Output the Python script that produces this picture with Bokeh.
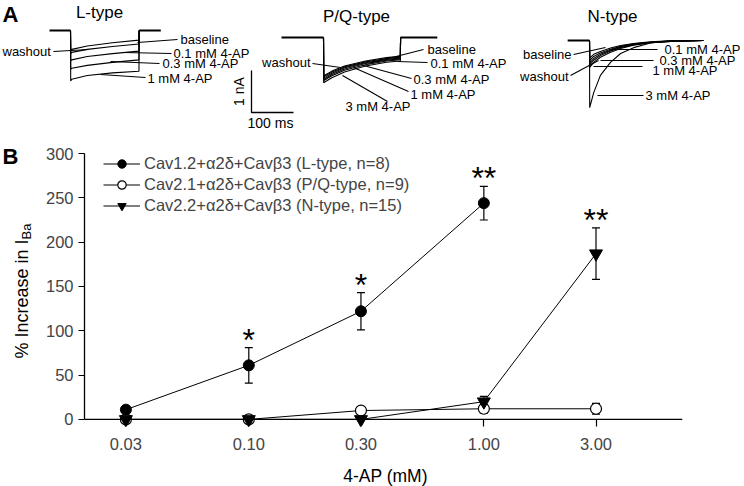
import math
from bokeh.plotting import figure
from bokeh.layouts import column, row
from bokeh.models import (Range1d, FixedTicker, NumeralTickFormatter, Whisker, TeeHead,
                          ColumnDataSource, Legend, LegendItem, Span)
from bokeh.core.properties import value
from bokeh.embed import file_html
from bokeh.resources import INLINE

FONT = "Liberation Sans"

# ---------------- Panel B data ----------------
conc = [0.03, 0.10, 0.30, 1.00, 3.00]
tick_labels = ["0.03", "0.10", "0.30", "1.00", "3.00"]
L_conc = [0.03, 0.10, 0.30, 1.00]
L_mean = [11, 61, 122, 244]
L_err = [2, 20, 21, 19]
PQ_mean = [0, 0, 10, 12, 12]
PQ_err = [0, 0, 4, 5, 6]
N_mean = [0, 0, 0, 20, 187]
N_err = [0, 0, 0, 6, 29]
y_ticks = [0, 50, 100, 150, 200, 250, 300]
x_title = "4-AP (mM)"
legend_labels = ["Cav1.2+\u03b12\u03b4+Cav\u03b23 (L-type, n=8)",
                 "Cav2.1+\u03b12\u03b4+Cav\u03b23 (P/Q-type, n=9)",
                 "Cav2.2+\u03b12\u03b4+Cav\u03b23 (N-type, n=15)"]
star_x = [0.10, 0.30, 1.00, 3.00]
star_text = ["*", "*", "**", "**"]

# ---------------- Panel A data (time in ms from pulse onset, current in nA) ----------------
L_t = [0, 0.5, 3, 40, 100, 163, 163.5]
L_traces = {
    "baseline": [0, -0.47, -0.45, -0.37, -0.29, -0.23, 0],
    "washout":  [0, -0.55, -0.52, -0.45, -0.38, -0.32, 0],
    "0.1 mM":   [0, -0.72, -0.70, -0.62, -0.55, -0.49, 0],
    "0.3 mM":   [0, -0.92, -0.90, -0.83, -0.76, -0.70, 0],
    "1 mM":     [0, -1.20, -1.16, -1.07, -1.01, -0.97, 0],
}
L_pre_t, L_post_t = [-50, 0], [163.5, 215]

PQ_t = [0, 0.5, 3, 20, 50, 100, 150, 183, 183.5]
PQ_traces = {
    "baseline": [0, -0.92, -0.90, -0.80, -0.68, -0.56, -0.48, -0.45, 0],
    "washout":  [0, -0.94, -0.92, -0.82, -0.70, -0.58, -0.50, -0.47, 0],
    "0.1 mM":   [0, -0.97, -0.95, -0.85, -0.72, -0.60, -0.52, -0.49, 0],
    "0.3 mM":   [0, -1.00, -0.98, -0.88, -0.75, -0.62, -0.54, -0.51, 0],
    "1 mM":     [0, -1.03, -1.01, -0.91, -0.78, -0.65, -0.56, -0.53, 0],
    "3 mM":     [0, -1.08, -1.06, -0.96, -0.82, -0.68, -0.59, -0.56, 0],
}
PQ_pre_t, PQ_post_t = [-100, 0], [183.5, 271]

N_t = [0, 0.5, 10, 26, 50, 74, 105, 145, 193, 271]
N_traces = {
    "baseline": [0, -0.42, -0.33, -0.26, -0.18, -0.12, -0.07, -0.03, -0.01, 0],
    "washout":  [0, -0.48, -0.38, -0.30, -0.21, -0.14, -0.08, -0.04, -0.01, 0],
    "0.1 mM":   [0, -0.53, -0.43, -0.33, -0.23, -0.15, -0.09, -0.04, -0.02, 0],
    "0.3 mM":   [0, -0.58, -0.47, -0.36, -0.25, -0.17, -0.10, -0.05, -0.02, 0],
    "1 mM":     [0, -0.64, -0.52, -0.40, -0.28, -0.19, -0.11, -0.05, -0.02, 0],
    "3 mM":     [0, -1.60, -1.24, -0.83, -0.52, -0.31, -0.17, -0.06, -0.01, 0],
}
N_pre_t = [-52, 0]

# ---------------- Panel A figure ----------------
PX = 0.42   # px per ms
PY = 42.0   # px per nA
W, HA = 744, 138

def ax(px):
    return px / PX

def ay(py):
    return -py / PY

pA = figure(width=W, height=HA, x_range=Range1d(0, W / PX), y_range=Range1d(-HA / PY, 0),
            output_backend="svg", toolbar_location=None, min_border=0,
            x_axis_location=None, y_axis_location=None, frame_align=False)
pA.outline_line_color = None
pA.grid.visible = False

def draw_traces(t, traces, onset_px, hold_py, pre=None, post=None):
    ox, oy = ax(onset_px), ay(hold_py)
    for name, cur in traces.items():
        pA.line([ox + v for v in t], [oy + c for c in cur], line_color="black", line_width=1.1)
    for seg in (pre, post):
        if seg:
            pA.line([ox + v for v in seg], [oy, oy], line_color="black", line_width=2)

draw_traces(L_t, L_traces, 70, 30, L_pre_t, L_post_t)
draw_traces(PQ_t, PQ_traces, 323, 37, PQ_pre_t, PQ_post_t)
draw_traces(N_t, N_traces, 589, 40, N_pre_t, None)

# scale bar: 1 nA, 100 ms
bx, by = ax(251), ay(112)
pA.line([bx, bx, bx + 100], [by + 1, by, by], line_color="black", line_width=1.3)

def txt(p_, items, size, align="left", angle=0.0, style="normal", fx=ax, fy=ay):
    p_.text(x=[fx(i[1]) for i in items], y=[fy(i[2]) for i in items], text=[i[0] for i in items],
            text_font=value(FONT), text_font_size=size, text_align=align,
            text_baseline="middle", angle=angle, text_font_style=style, text_color="black")

txt(pA, [("A", 2, 14)], "22px", style="bold")
txt(pA, [("L-type", 99, 12), ("P/Q-type", 356, 16), ("N-type", 612, 16)], "17px", align="center")
txt(pA, [("baseline", 180, 39), ("0.1 mM 4-AP", 173, 53), ("0.3 mM 4-AP", 162, 63),
         ("1 mM 4-AP", 147, 78), ("washout", 2, 51),
         ("baseline", 427, 49), ("0.1 mM 4-AP", 430, 63), ("0.3 mM 4-AP", 413, 79),
         ("1 mM 4-AP", 410, 94), ("3 mM 4-AP", 345, 106),
         ("0.1 mM 4-AP", 664, 49), ("0.3 mM 4-AP", 659, 60), ("1 mM 4-AP", 652, 70),
         ("3 mM 4-AP", 645, 95)], "13px")
txt(pA, [("washout", 310, 62), ("baseline", 571, 54), ("washout", 568, 76)], "13px", align="right")
txt(pA, [("100 ms", 270, 122)], "14px", align="center")
txt(pA, [("1 nA", 238, 91)], "14px", align="center", angle=math.pi / 2)

leaders = [((53, 51), (88, 49)), ((137, 42), (177, 39)), ((123, 52), (171, 53)),
           ((110, 61), (159, 63)), ((100, 74), (145, 77)),
           ((368, 63), (423, 49)), ((397, 61), (427, 62)), ((363, 65), (411, 78)),
           ((353, 67), (408, 91)), ((342, 75), (387, 101)), ((312, 63), (340, 67)),
           ((573, 54), (605, 47)), ((570, 75), (598, 60)), ((610, 49), (657, 49)),
           ((600, 60), (653, 60)), ((593, 66), (642, 66)), ((597, 95), (643, 95))]
pA.segment(x0=[ax(a[0]) for a, b in leaders], y0=[ay(a[1]) for a, b in leaders],
           x1=[ax(b[0]) for a, b in leaders], y1=[ay(b[1]) for a, b in leaders],
           line_color="black", line_width=1.1)

ident = lambda v: v

def strip(w, h, x0, y0):
    s = figure(width=w, height=h, x_range=Range1d(x0, x0 + w), y_range=Range1d(y0 + h, y0),
               output_backend="svg", toolbar_location=None, min_border=0,
               x_axis_location=None, y_axis_location=None, frame_align=False)
    s.outline_line_color = None
    s.grid.visible = False
    return s

# ---------------- Side strip with panel letter B and y-axis title ----------------
WL, HB = 40, 348
pL = strip(WL, HB, 0, 138)
txt(pL, [("B", 2, 156)], "22px", style="bold", fx=ident, fy=ident)
txt(pL, [("% Increase in I", 21, 358)], "18px", angle=math.pi / 2, fx=ident, fy=ident)
txt(pL, [("Ba", 26, 239)], "13px", angle=math.pi / 2, fx=ident, fy=ident)

# ---------------- Panel B figure ----------------
HP, HX = 322, 26
pB = figure(width=W - WL, height=HP, x_axis_type="log", x_range=Range1d(0.02, 7),
            y_range=Range1d(-8, 300), output_backend="svg", toolbar_location=None,
            min_border_left=44, min_border_right=62, min_border_top=15, min_border_bottom=34,
            frame_align=False)
pB.outline_line_color = None
pB.grid.visible = False

xa = pB.xaxis[0]
xa.ticker = FixedTicker(ticks=conc)
xa.formatter = NumeralTickFormatter(format="0.00")
xa.minor_tick_line_color = None
xa.axis_line_color = None
xa.major_tick_in = 7
xa.major_tick_out = 0
xa.major_tick_line_width = 1.2
xa.major_label_standoff = 11
xa.major_label_text_font = FONT
xa.major_label_text_font_size = "16.5px"

# x-axis line drawn at y = 0
pB.add_layout(Span(location=0, dimension="width", line_color="black", line_width=1.3))

ya = pB.yaxis[0]
ya.bounds = (0, 300)
ya.ticker = FixedTicker(ticks=y_ticks)
ya.minor_tick_line_color = None
ya.major_tick_in = 0
ya.major_tick_out = 6
ya.major_tick_line_width = 1.2
ya.major_label_standoff = 5
ya.major_label_text_font = FONT
ya.major_label_text_font_size = "16.5px"
ya.axis_line_width = 1.3

def add_err(xs, m, e):
    src = ColumnDataSource(dict(x=xs, lo=[a - b for a, b in zip(m, e)], hi=[a + b for a, b in zip(m, e)]))
    w = Whisker(source=src, base="x", lower="lo", upper="hi", dimension="height",
                line_color="black", line_width=1.2,
                upper_head=TeeHead(size=8, line_color="black", line_width=1.2),
                lower_head=TeeHead(size=8, line_color="black", line_width=1.2))
    pB.add_layout(w)

add_err(L_conc, L_mean, L_err)
add_err(conc, PQ_mean, PQ_err)
add_err(conc, N_mean, N_err)

lL = pB.line(L_conc, L_mean, line_color="black", line_width=1)
lP = pB.line(conc, PQ_mean, line_color="black", line_width=1)
lN = pB.line(conc, N_mean, line_color="black", line_width=1)
sP = pB.scatter(conc, PQ_mean, marker="circle", size=11, fill_color="white", line_color="black", line_width=1.2)
sN = pB.scatter(conc, N_mean, marker="inverted_triangle", size=13, fill_color="black", line_color="black")
sL = pB.scatter(L_conc, L_mean, marker="circle", size=11, fill_color="black", line_color="black")

star_y = [L_mean[1] + L_err[1], L_mean[2] + L_err[2], L_mean[3] + L_err[3], N_mean[4] + N_err[4]]
pB.text(x=star_x, y=star_y, text=star_text, text_font=value(FONT), text_font_size="32px",
        text_align="center", text_baseline="alphabetic", y_offset=-8, text_color="black")

legend = Legend(items=[LegendItem(label=legend_labels[0], renderers=[lL, sL]),
                       LegendItem(label=legend_labels[1], renderers=[lP, sP]),
                       LegendItem(label=legend_labels[2], renderers=[lN, sN])],
                location=(19, 210), padding=0, spacing=0, margin=0,
                glyph_width=37, glyph_height=21, label_height=21, label_standoff=4,
                label_text_font=FONT, label_text_font_size="16.5px",
                border_line_color=None, background_fill_alpha=0)
pB.add_layout(legend)

# ---------------- Bottom strip with the x-axis title ----------------
pX = strip(W - WL, HX, WL, 138 + HP)
txt(pX, [(x_title, 385, 475)], "17.5px", align="center", fx=ident, fy=ident)

layout = column(pA, row(pL, column(pB, pX, spacing=0), spacing=0), spacing=0)
open("out.html", "w").write(file_html(layout, INLINE))
